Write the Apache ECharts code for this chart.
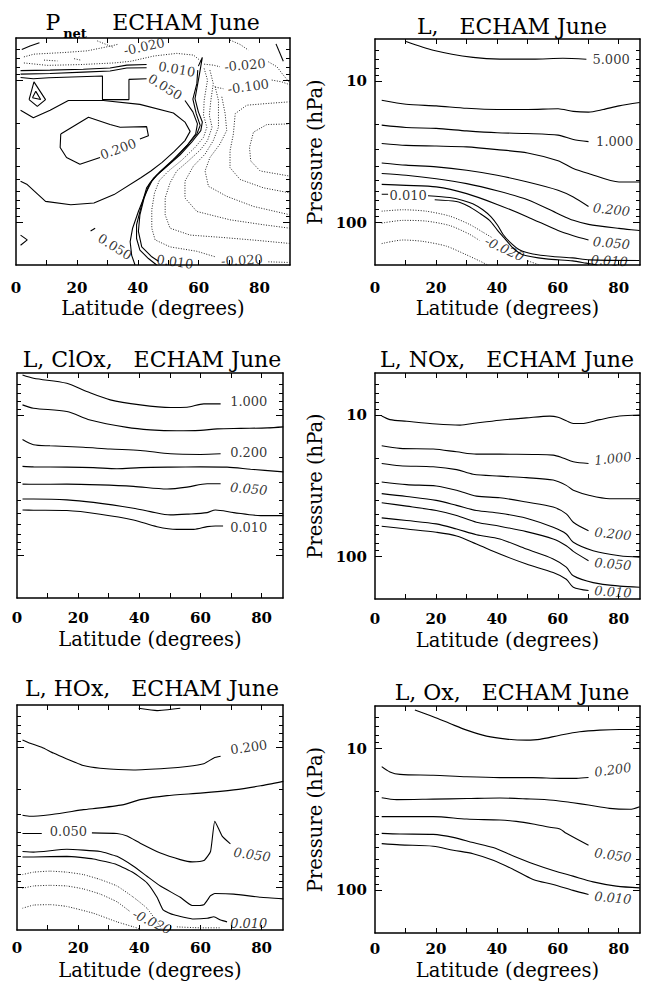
<!DOCTYPE html>
<html><head><meta charset="utf-8">
<script src="https://cdn.jsdelivr.net/npm/echarts@6/dist/echarts.min.js"></script>
<style>html,body{margin:0;padding:0;background:#fff}#c{width:648px;height:982px}</style>
</head><body><div id="c"></div>
<script>
// ---------- axis values ----------
const LAT_LABELS = [0, 20, 40, 60, 80];
const LAT_TICKS = [10, 20, 30, 40, 50, 60, 70, 80];
const P_MAJOR = [10, 100];
const P_MINOR = [6, 7, 8, 9, 20, 30, 40, 50, 60, 70, 80, 90];
const P_RANGE = [5, 200];
const LAT_MAX_PNET = 90, LAT_MAX = 87;

// ---------- panel 1 : P_net ----------
const pnetA010 = [[1.5,8.5],[11.2,8.43],[22.1,8.3],[30.9,8.15],[36.4,7.77],[42.9,7.7],['-','-'],[59.9,7.9],[61.2,6.85],[60.2,9.14],[58.8,13.4],[59.9,16.6],[61.2,19.6],[60.7,22.5],[57.7,27.2],[53.9,33.4],[49.5,40.4],[46.2,46.4],[43.8,53.5],[42.1,67.3],[40.7,88.5],[40.2,116],[41.3,149],[44.6,175],[46.8,188]];
const pnetB020 = [[1.5,9.0],[11.2,8.9],[22.1,8.7],[30.9,8.55],[36.4,8.15],[42.9,8.1],['-','-'],[59.7,8.43],[59.4,10.5],[58.1,13.5],[59.2,17.1],[60.5,20.7],[59.4,23.8],[56.6,28.0],[52.8,34.5],[48.4,42.2],[45.1,49.0],[42.9,57.1],[41.3,75.1],[39.6,104],[39.6,130],[40.7,157],[43.5,180],[46.2,200]];
const pnetC050 = [[1.5,9.5],[5.7,9.7],[10.8,9.53],[28.4,9.27],[28.4,13.6],[37.1,13.6],[37.1,9.8],[42.9,9.7],['-','-'],[55.5,13.8],[58.1,16.6],[59.6,20.2],[59.0,23.8],[56.1,28.8],[51.7,35.9],[47.3,43.9],[44.6,51.2],[42.4,63.7],[40.2,83.8],[38.3,110],[37.5,137],[38.0,171],[39.1,200]];
const pnetC050b = [[24.5,115],[26.0,110]];
const pnetC100 = [[1.5,16.2],[5.7,18.3],[11.2,16.2],[17.2,13.8],[28.7,13.8],[40.7,14.7],[51.7,16.9],[55.5,19.6],[57.2,22.8],[55.5,26.5],[52.0,31.6],[48.0,37.7],[44.3,43.4],[41.0,48.5],[32.2,63.7],[25.6,73],[18.0,75.1],[9.7,71.1],[3.7,54.1],[1.5,51.2]];
const pnetC200 = [[14.7,23.8],[23.8,18.1],[30.9,20.4],[34.2,21.3],[42.9,21.1],[43.5,24.5],[40.7,25.8],['-','-'],[27.6,34.9],[21.0,38.9],[16.6,34.9],[14.5,29.6],[14.7,23.8]];
const pnetTri1 = [[4.3,13.6],[5.9,10.2],[9.7,13.6],[7.0,15.2],[4.3,13.6]];
const pnetTri2 = [[5.4,13.2],[6.5,11.9],[8.1,13.6],[5.4,13.2]];
const pnetS1 = [[1.9,6.03],[4.6,5.7],[7.7,5.4]];
const pnetS2 = [[85.4,5.5],[87.8,7.3]];
const pnetS3 = [[1.5,123],[3.7,133],[1.5,145]];
const pnetT1 = [[2.6,6.8],[5.9,6.5],[15.8,6.33],[23.4,6.16],[31.1,5.7],[33.6,5.53]];
const pnetT2 = [[2.6,7.5],[10.3,7.8],[21.2,7.7],[32.2,7.5],[37.7,7.3],[45.3,6.7],[52.8,6.42],[58.3,6.6],[61.0,7.36]];
const pnetT3 = [[26.7,5.24],[32.2,5.85]];
const pnetBlob1 = [[9.2,7.16],[13.6,7.26]];
const pnetBlob2 = [[19.1,7.0],[21.2,7.16]];
const pnetTop = [[70.3,5.17],[73.6,5.55],[76.3,6.08]];
const pnetR1 = [[61.8,7.65],[64.8,7.77],[67.0,7.98],['-','-'],[82.9,7.36],[85.7,7.98],[87.8,9.14],[90,10.4]];
const pnetR2 = [[65.4,11.1],[68.1,11.4],['-','-'],[84.0,9.9],[87.3,10.2],[90,10.7]];
const pnetQ1 = [[61.8,8.2],[62.9,9.9],[61.8,13.8],[61.6,17.6],[62.7,21.3],[61.6,25.1],[58.8,29.6],[54.4,36.5],[50.1,43.4],[47.1,50.6],[45.5,62.0],[44.6,81.5],[44.6,110],[45.7,133],[50.6,149],[59.4,160],[65.4,175],['-','-'],[82.9,190],[90,192]];
const pnetQ2 = [[63.7,8.43],[64.8,10.5],[64.0,13.8],[63.5,17.6],[64.4,21.3],[62.9,26.5],[60.5,30.9],[56.6,36.9],[52.8,43.4],[50.6,52.6],[49.0,67.3],[49.0,88.5],[50.6,110],[57.2,123],[68.1,128],[79.1,134],[90,141]];
const pnetQ3 = [[65.4,11.0],[66.5,13.8],[66.5,21.3],[64.8,26.5],[62.1,33.0],[58.3,40.0],[55.5,51.2],[55.5,67.3],[59.4,83.8],[70.3,96],[81.3,104],[90,110]];
const pnetQ4 = [[67.6,13.0],[68.7,17.1],[69.2,22.5],[67.0,28.0],[63.7,34.9],[62.1,43.4],[63.2,55.6],[69.2,65.5],[78.0,77.2],[90,88.5]];
const pnetQ5 = [[90,14.1],[82.4,14.5],[75.8,14.9],[72.0,17.1],[71.4,23.8],[70.3,31.3],[70.3,41.1],[73.6,49.8],[81.3,57.1],[90,62.0]];
const pnetQ6 = [[90,20.2],[82.4,20.4],[78.0,23.1],[76.7,29.6],[77.1,36.9],[80.2,43.4],[90,47.2]];
const pnetLabels = [['0.010',52.8,8.3],['0.050',49.0,11.1],['0.200',33.6,30.4],['-0.020',42.1,5.75],['-0.020',75.2,7.77],['-0.100',76.3,11.0],['0.050',32.5,149],['0.010',52.2,190],['-0.020',74.2,185]];

// ---------- panel 2 : L ----------
const l5000 = [[10.2,5.2],[19.1,6.0],[32.2,6.75],[41,6.95],[51.9,6.95],[61.7,6.85],[69.4,6.95]];
const l2000 = [[2.2,13.6],[10.2,14.5],[20.1,14.9],[30.1,15.5],[40.1,15.8],[50.1,15.8],[60.1,15.6],[65.1,16.3],[70.1,16.5],[74.9,15.8],[80.1,14.9],[86.9,14.1]];
const l1000 = [[2.2,20.4],[10.2,21.2],[20.1,21.5],[30.1,22.4],[40.1,23.1],[50.1,23.4],[60.1,24.0],[65.1,25.8],[70.1,26.7]];
const l0500 = [[2.2,27.5],[10.2,28.4],[20.1,28.7],[30.1,29.1],[40.1,30.4],[50.1,32.1],[60.1,36.5],[65.1,41.4],[70.1,44.9],[80.1,51.6],[86.9,51.6]];
const l0200 = [[2.2,37.8],[10.2,39.2],[20.1,40.3],[30.1,42.6],[40.1,46.2],[50.1,51.6],[60.1,59.0],[65.1,65.9],[70.1,77]];
const l0100 = [[2.2,44.9],[10.2,46.2],[20.1,48.9],[30.1,53.0],[40.1,59.6],[50.1,68.9],[60.1,86.6],[65.1,96.5],[70.1,103],[80.1,110],[86.9,114]];
const l0050 = [[2.2,53.6],[10.2,54.5],[20.1,55.9],[30.1,62.4],[40.1,74.4],[50.1,91.2],[60.1,114],[65.1,124],[70.1,133]];
const l0010 = [[2.2,63],[4.3,63],['-','-'],[17.4,64.6],[24.5,66.5],[28.9,69.7],[32.1,73.6],[35.4,81.2],[38.1,91.2],[40.3,105],[42.0,121],[44.2,137],[47.4,156],[51.8,167],[58.4,174],[64.9,178],[70.4,184],[86.8,186]];
const l0005 = [[19.6,68.9],[26.7,71],[30.5,76.4],[34.3,85.8],[37.6,96.5],[40.3,114],[42.5,129],[45.2,151],[48.5,169],[56.2,181],[64.9,187],[69.3,194],[73,200]];
const lm010 = [[2.2,83.1],[9.2,81.2],[16.8,83.1],[24.5,90],[31.0,103],[35.4,117],[38.7,129],['-','-'],[50.2,187],[54.0,200]];
const lm020 = [[2.2,101],[9.2,96.5],[16.8,97.7],[24.5,105],[31.0,121],[34.3,134]];
const lm050 = [[2.2,141],[9.2,133],[15.7,136],[23.4,147],[29.9,169],[34.3,187],[37.0,200]];
const lLabels = [['5.000',77.5,6.95],['1.000',78.7,26.7],['0.200',77.6,81],['0.050',77.6,140],['0.010',10.9,64.3],['0.010',76.9,187],['-0.020',42.5,154]];

// ---------- panel 3 : ClOx ----------
const clox1 = [[1.8,5.17],[5.4,5.45],[16.3,5.92],[22.8,6.78],[30.5,7.77],[40.3,8.43],[50.2,8.8],[55.6,8.76],[61.1,8.3],[66.6,8.3]];
const clox2 = [[1.8,8.43],[5.4,8.9],[16.3,9.4],[23.9,10.8],[36.0,12.2],[43.6,12.7],[52.3,12.9],[60.0,12.8],[65.5,12.5],[73.1,12.4],[81.9,12.3],[87.1,12.1]];
const clox3 = [[1.8,14.9],[5.4,16.2],[10.8,16.5],[21.7,16.9],[30.5,17.4],[40.3,17.8],[50.2,18.8],[60.0,19.0],[66.6,18.8]];
const clox4 = [[1.8,23.1],[5.4,23.3],[16.3,23.4],[25.0,23.6],[32.7,24.0],[40.3,23.6],[50.2,23.4],[60.0,23.3],[68.7,23.4],[76.4,24.2],[87.1,25.3]];
const clox5 = [[1.8,30.9],[5.4,31.0],[16.3,30.9],[27.2,31.3],[38.1,32.1],[49.1,33.5],[55.6,32.5],[62.2,30.7],[66.6,30.7]];
const clox6 = [[1.8,39.5],[5.4,39.5],[16.3,40.0],[25.0,41.7],[38.1,45.9],[43.6,48.5],[50.2,51.2],[55.6,50.6],[62.2,49.3],[64.9,47.2],[70.9,49.3],[79.7,51.8],[87.1,51.8]];
const clox7 = [[1.8,47.2],[5.4,47.4],[16.3,47.7],[27.2,50.6],[38.1,55.6],[45.8,62.1],[52.3,64.9],[57.8,64.9],[62.2,62.1],[64.9,61.4],[67.4,61.4]];
const cloxLabels = [['1.000',75.8,7.98],['0.200',75.8,18.4],['0.050',75.8,33.4],['0.010',75.8,62.8]];

// ---------- panel 4 : NOx ----------
const nox1 = [[2.2,10.1],[4.9,10.7],[10.4,11.0],[20.1,11.5],[27.9,11.7],[33.3,11.3],[41.0,10.8],[49.7,10.4],[57.4,10.1],[60.1,10.3],[62.8,10.9],[65.1,11.4],[67.8,11.4],[73.8,10.7],[80.3,10.1],[86.9,9.92]];
const nox2 = [[2.2,16.4],[8.2,17.1],[19.1,17.3],[26.8,18.1],[33.3,18.8],[41.0,18.8],[51.9,18.9],[58.5,19.1],[61.7,20.0],[65.1,21.3],[70.1,21.9]];
const nox3 = [[2.2,21.9],[8.2,22.7],[19.1,23.1],[26.8,24.2],[32.2,26.1],[41.0,26.9],[49.7,27.6],[58.5,28.7],[62.8,31.3],[65.1,33.9],[70.5,36.9],[77.0,38.9],[86.9,38.9]];
const nox4 = [[2.2,29.6],[10.4,30.9],[20.1,31.6],[26.8,33.9],[33.3,37.3],[41.0,38.3],[49.7,41.1],[58.5,44.6],[62.8,49.8],[65.1,57.1],[70.1,65.6]];
const nox5 = [[2.2,35.8],[10.4,37.5],[20.1,40.0],[26.8,43.4],[33.3,47.2],[41.0,49.3],[49.7,53.5],[58.5,62.1],[62.8,69.2],[65.1,79.3],[71.6,91.0],[80.3,98.7],[86.9,101]];
const nox6 = [[2.2,41.6],[10.4,43.9],[20.1,47.2],[26.8,51.2],[33.3,57.1],[41.0,61.0],[49.7,66.6],[58.5,75.1],[62.8,83.8],[65.1,91.9],[70.1,107]];
const nox7 = [[2.2,53.2],[10.4,55.6],[20.1,58.7],[26.8,63.8],[33.3,70.0],[41.0,75.1],[49.7,88.5],[58.5,104],[62.8,119],[65.1,137],[71.6,153],[80.3,162],[86.9,165]];
const nox8 = [[2.2,61.0],[10.4,63.8],[20.1,67.3],[26.8,71.5],[33.3,81.5],[41.0,96.0],[49.7,113],[58.5,130],[62.8,145],[65.1,165],[70.1,174]];
const noxLabels = [['1.000',78.1,20.2],['0.200',78.1,69.2],['0.050',78.1,113],['0.010',78.1,178]];

// ---------- panel 5 : HOx ----------
const hox0 = [[39.8,5.28],[45.8,5.48],[53.4,5.28]];
const hox1 = [[1.8,8.86],[4.3,9.35],[8.1,9.99],[11.9,11.0],[16.3,12.1],[21.7,13.5],[27.2,14.1],[38.1,14.5],[49.1,14.1],[55.6,13.7],[61.1,13.1],[64.4,11.9],[66.6,11.6]];
const hox2 = [[1.8,30.5],[4.3,31.0],[10.8,30.2],[16.3,29.0],[21.7,27.8],[27.2,27.0],[34.9,25.6],[40.3,23.6],[49.1,22.1],[60.0,21.2],[70.9,20.1],[79.7,18.8],[87.1,17.5]];
const hox3 = [[1.8,41.1],[8.1,41.1],['-','-'],[24.5,40.7],[32.7,41.1],[36.0,42.9],[40.3,48.2],[46.9,56.7],[53.4,63.1],[57.3,65.5],[61.1,64.1],[63.3,55.2],[64.7,33.6],[67.1,42.9],[69.8,48.7]];
const hox4 = [[1.8,55.2],[5.4,55.8],[16.3,53.2],[27.2,55.2],[32.7,59.8],[38.1,70.3],[42.5,82.8],[46.9,97.2],[53.4,117],[57.3,134],[61.1,132],[63.3,114],[64.7,110],[70.9,111],[79.7,117],[87.1,120]];
const hox5 = [[1.8,60.4],[5.4,60.4],[16.3,59.8],[25.0,62.4],[32.7,68.5],[38.1,78.3],[42.5,92.2],[45.8,117],[47.8,144],[51.3,156],[57.8,167],[62.2,165],[64.4,161],[66.6,170],[68.7,175]];
const hoxm1 = [[1.8,80.6],[5.4,77.5],[10.8,76.2],[16.3,77.5],[21.7,80.6],[27.2,87.4],[32.7,97.2],[38.1,117],[42.5,140],[45.8,175],[47.4,195]];
const hoxm2 = [[1.8,101],[5.4,97.2],[10.8,96.2],[16.3,97.2],[21.7,102],[27.2,111],[32.7,126],[37.0,148],['-','-'],[52.3,190],[60.0,193],[66.6,193]];
const hoxm3 = [[1.8,140],[5.4,133],[10.8,132],[16.3,136],[25.0,152],[32.7,175],[38.1,190],[40.3,197]];
const hoxLabels = [['0.200',75.8,10.0],['0.050',16.8,39.6],['0.050',76.9,58.2],['0.010',75.8,180],['-0.020',44.2,175]];

// ---------- panel 6 : Ox ----------
const ox1 = [[13.1,5.34],[19.1,5.96],[24.6,6.65],[30.1,7.4],[36.6,8.16],[43.2,8.56],[49.7,8.7],[54.1,8.6],[60.7,8.04],[67.2,7.6],[73.8,7.4],[80.3,7.32],[86.9,7.32]];
const ox2 = [[2.2,13.4],[4.9,14.6],[8.2,15.2],[19.1,15.4],[30.1,15.8],[41.0,16.0],[51.9,16.0],[60.7,16.2],[66.1,16.2],[70.1,16.0]];
const ox3 = [[2.2,22.2],[7.1,22.9],[19.1,22.7],[30.1,22.5],[41.0,22.3],[49.7,22.6],[58.5,23.1],[65.0,24.1],[70.1,25.0],[77.0,26.4],[83.6,26.8],[86.9,25.7]];
const ox4 = [[2.2,30.2],[8.2,30.2],[19.1,30.2],[30.1,31.4],[41.0,31.9],[46.4,32.6],[51.9,34.0],[57.4,35.9],[60.7,36.9],[62.8,39.6],[70.1,48.1]];
const ox5 = [[2.2,39.6],[8.2,40.0],[19.1,40.3],[25.7,42.3],[32.2,46.0],[38.8,49.9],[45.4,57.2],[51.9,64.9],[58.5,72.4],[65.0,79.4],[71.6,87.1],[79.2,93.4],[86.9,96.0]];
const ox6 = [[2.2,46.8],[8.2,47.8],[19.1,48.8],[25.7,52.1],[32.2,55.1],[38.8,61.4],[45.4,71.2],[51.9,83.8],[58.5,91.0],[65.0,100],[70.1,107]];
const oxLabels = [['0.200',78.1,14.1],['0.050',78.1,56.5],['0.010',78.1,113]];

// ---------- styles / layout ----------
const LABEL_STYLE = {
  pnet: [[-10,0],[-32,0],[20,0],[12,0],[5,0],[8,0],[-32,0],[-8,0],[3,0]],
  l:    [[0,0],[0,0],[-6,1],[-5,1],[0,0],[-3,1],[-25,1]],
  clox: [[0,0],[0,0],[-5,1],[0,0]],
  nox:  [[6,1],[-6,1],[-5,1],[-4,1]],
  hox:  [[8,0],[0,0],[-8,1],[0,1],[-25,1]],
  ox:   [[8,1],[-8,1],[-5,1]]
};
const PANELS = [
  {left:16, top:38, width:274, height:227, xmax:LAT_MAX_PNET, ylab:false, margin:15, nameGap:33,
   solid:[pnetA010,pnetB020,pnetC050,pnetC050b,pnetC100,pnetC200,pnetTri1,pnetTri2,pnetS1,pnetS2,pnetS3],
   dotted:[pnetT1,pnetT2,pnetT3,pnetBlob1,pnetBlob2,pnetTop,pnetR1,pnetR2,pnetQ1,pnetQ2,pnetQ3,pnetQ4,pnetQ5,pnetQ6],
   labels:pnetLabels, lstyle:LABEL_STYLE.pnet, smooth:false},
  {left:375, top:39, width:265, height:226, xmax:LAT_MAX, ylab:true, margin:15, nameGap:33,
   solid:[l5000,l2000,l1000,l0500,l0200,l0100,l0050,l0010,l0005], dotted:[lm010,lm020,lm050],
   labels:lLabels, lstyle:LABEL_STYLE.l, smooth:0.25},
  {left:17, top:373, width:266, height:225, xmax:LAT_MAX, ylab:false, margin:12, nameGap:31,
   solid:[clox1,clox2,clox3,clox4,clox5,clox6,clox7], dotted:[], labels:cloxLabels, lstyle:LABEL_STYLE.clox, smooth:0.3},
  {left:375, top:373, width:265, height:226, xmax:LAT_MAX, ylab:true, margin:12, nameGap:31,
   solid:[nox1,nox2,nox3,nox4,nox5,nox6,nox7,nox8], dotted:[], labels:noxLabels, lstyle:LABEL_STYLE.nox, smooth:0.3},
  {left:17, top:705, width:266, height:225, xmax:LAT_MAX, ylab:false, margin:10, nameGap:30,
   solid:[hox0,hox1,hox2,hox3,hox4,hox5], dotted:[hoxm1,hoxm2,hoxm3], labels:hoxLabels, lstyle:LABEL_STYLE.hox, smooth:0.15},
  {left:375, top:706, width:265, height:227, xmax:LAT_MAX, ylab:true, margin:8, nameGap:27,
   solid:[ox1,ox2,ox3,ox4,ox5,ox6], dotted:[], labels:oxLabels, lstyle:LABEL_STYLE.ox, smooth:0.3}
];
const SERIF = 'DejaVu Serif';
const TITLE_FONT = '22px DejaVu Serif';
const TITLES = [
  {text:'P', x:53, y:22.5, font:TITLE_FONT},
  {text:'net', x:75, y:33, font:'bold 13px DejaVu Serif'},
  {text:'ECHAM June', x:186, y:22.5, font:TITLE_FONT},
  {text:'L,   ECHAM June', x:512, y:26, font:TITLE_FONT},
  {text:'L, ClOx,   ECHAM June', x:152, y:359, font:TITLE_FONT},
  {text:'L, NOx,   ECHAM June', x:507, y:359, font:TITLE_FONT},
  {text:'L, HOx,   ECHAM June', x:152, y:688, font:TITLE_FONT},
  {text:'L, Ox,   ECHAM June', x:512, y:692, font:TITLE_FONT}
];

// ---------- build option ----------
const N = PANELS.length;
const grids = new Array(2*N), xAxes = new Array(3*N), yAxes = new Array(4*N), series = [];
const black = '#000';
const nameStyle = {fontFamily: SERIF, fontSize: 19.5, lineHeight: 20, color: black};
const tickLabel = {fontFamily: SERIF, fontWeight: 'bold', fontSize: 15, lineHeight: 16, color: black};
PANELS.forEach((P, g) => {
  grids[g] = {left:P.left, top:P.top, width:P.width, height:P.height, containLabel:false, outerBoundsMode:'none'};
  const xBase = {gridIndex:g, type:'value', min:0, max:P.xmax, splitLine:{show:false},
    axisLine:{show:true, onZero:false, lineStyle:{color:black, width:1.5}},
    axisTick:{show:true, inside:true, length:5, customValues:LAT_TICKS, lineStyle:{color:black, width:1}}};
  xAxes[2*g] = Object.assign({}, xBase, {position:'bottom',
    axisLabel:Object.assign({show:true, customValues:LAT_LABELS, margin:P.margin}, tickLabel),
    name:'Latitude (degrees)', nameLocation:'middle', nameGap:P.nameGap, nameTextStyle:nameStyle});
  xAxes[2*g+1] = Object.assign({}, xBase, {position:'top', axisLabel:{show:false}});
  const yBase = {gridIndex:g, type:'log', logBase:10, min:P_RANGE[0], max:P_RANGE[1], inverse:true, splitLine:{show:false},
    axisLine:{show:true, onZero:false, lineStyle:{color:black, width:1.5}}};
  yAxes[2*g] = Object.assign({}, yBase, {position:'left',
    axisTick:{show:true, inside:true, length:7, customValues:P_MAJOR, lineStyle:{color:black, width:1}},
    axisLabel:Object.assign({show:P.ylab, customValues:P_MAJOR, margin:8}, tickLabel),
    name:P.ylab ? 'Pressure (hPa)' : '', nameLocation:'middle', nameGap:50, nameRotate:90, nameTextStyle:nameStyle});
  yAxes[2*g+1] = Object.assign({}, yBase, {position:'right',
    axisTick:{show:true, inside:true, length:7, customValues:P_MAJOR, lineStyle:{color:black, width:1}},
    axisLabel:{show:false}});
  // overlay grid for minor ticks
  grids[N+g] = {left:P.left, top:P.top, width:P.width, height:P.height, containLabel:false, outerBoundsMode:'none'};
  xAxes[2*N+g] = {gridIndex:N+g, type:'value', min:0, max:P.xmax, show:false};
  ['left','right'].forEach((pos, k) => {
    yAxes[2*N+2*g+k] = Object.assign({}, yBase, {gridIndex:N+g, position:pos,
      axisLine:{show:false},
      axisTick:{show:true, inside:true, length:4, customValues:P_MINOR, lineStyle:{color:black, width:1}},
      axisLabel:{show:false}});
  });
  P.solid.forEach(d => series.push({type:'line', xAxisIndex:2*g, yAxisIndex:2*g, data:d, symbol:'none', showSymbol:false,
    smooth:P.smooth, connectNulls:false, silent:true, animation:false, z:3,
    lineStyle:{color:black, width:1.1, type:'solid'}}));
  P.dotted.forEach(d => series.push({type:'line', xAxisIndex:2*g, yAxisIndex:2*g, data:d, symbol:'none', showSymbol:false,
    smooth:P.smooth, connectNulls:false, silent:true, animation:false, z:3,
    lineStyle:{color:'#222', width:1, type:[1,1.6]}}));
  series.push({type:'scatter', xAxisIndex:2*g, yAxisIndex:2*g, symbolSize:1, silent:true, animation:false, z:5,
    itemStyle:{color:'rgba(0,0,0,0)'},
    data:P.labels.map((l, i) => ({name:l[0], value:[l[1], l[2]],
      label:{rotate:P.lstyle[i][0], fontStyle:P.lstyle[i][1] ? 'italic' : 'normal'}})),
    label:{show:true, position:'inside', formatter:'{b}', fontFamily:SERIF, fontSize:13, color:black}});
});
const graphic = TITLES.map(t => ({type:'text', x:t.x, y:t.y, silent:true,
  style:{text:t.text, font:t.font, fill:black, align:'center', verticalAlign:'middle'}}));

const chart = echarts.init(document.getElementById('c'), null, {renderer:'svg', width:648, height:982});
chart.setOption({animation:false, backgroundColor:'#fff', textStyle:{fontFamily:SERIF},
  grid:grids, xAxis:xAxes, yAxis:yAxes, series:series, graphic:graphic});
</script></body></html>
